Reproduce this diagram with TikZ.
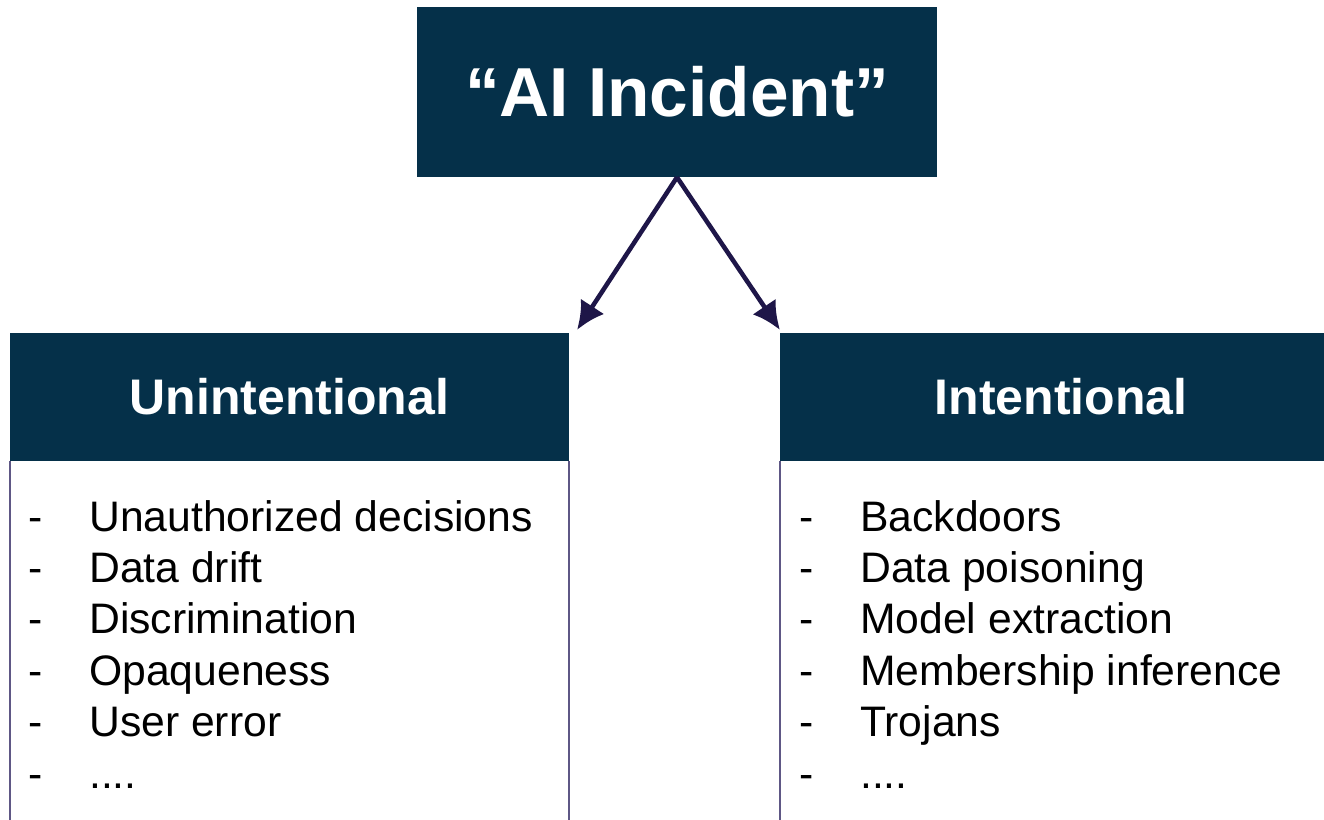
\documentclass[tikz,border=0pt]{standalone}
\usepackage{fontspec}
\setmainfont{Liberation Sans}
\usepackage{tikz}
\usetikzlibrary{arrows.meta}
\definecolor{incidentblue}{HTML}{053049}
\definecolor{arrowpurple}{HTML}{1E1648}
\definecolor{listedge}{HTML}{5E5785}
\newcommand{\moredots}{....}

\begin{document}
\begin{tikzpicture}[x=0.75pt,y=-0.75pt,
  titlebox/.style={fill=incidentblue,text=white,inner sep=0pt,
    font=\fontsize{52}{60}\selectfont\bfseries},
  headbox/.style={fill=incidentblue,text=white,inner sep=0pt,
    minimum height=96pt,font=\fontsize{37.5}{44}\selectfont\bfseries},
  listitem/.style={anchor=base west,inner sep=0pt,
    font=\fontsize{32}{38}\selectfont},
  listside/.style={draw=listedge,line width=1.5pt},
  link/.style={draw=arrowpurple,line width=3.4pt,
    -{Latex[length=21pt,width=21pt]}}]
\clip (0,0) rectangle (1324,820);
\fill[white] (0,0) rectangle (1324,820);

% top box
\node[titlebox,minimum width=390pt,minimum height=127.5pt] (incident) at (677,92) {“AI Incident”};

% the two headers
\node[headbox,minimum width=419.25pt] (unint) at (289.5,397) {Unintentional};
\node[headbox,minimum width=421.5pt] (intent) at (1061,397) {Intentional};

% open boxes under the headers
\draw[listside] (unint.south west) -- ++(0,380);
\draw[listside] (unint.south east) -- ++(0,380);
\draw[listside] (intent.south west) -- ++(0,380);

% arrows
\coordinate (lefttip) at (577,330);
\coordinate (righttip) at (780,330);
\draw[link] (incident.south) -- (lefttip);
\draw[link] (incident.south) -- (righttip);

% items
\foreach \txt [count=\i] in {Unauthorized decisions,Data drift,Discrimination,Opaqueness,User error,\moredots}
  \node[listitem] (unint\i) at (28,531+51.4*\i-51.4) {\makebox[45.75pt][l]{-}\txt};
\foreach \txt [count=\i] in {Backdoors,Data poisoning,Model extraction,Membership inference,Trojans,\moredots}
  \node[listitem] (intent\i) at (799,531+51.4*\i-51.4) {\makebox[45.75pt][l]{-}\txt};
\end{tikzpicture}
\end{document}
